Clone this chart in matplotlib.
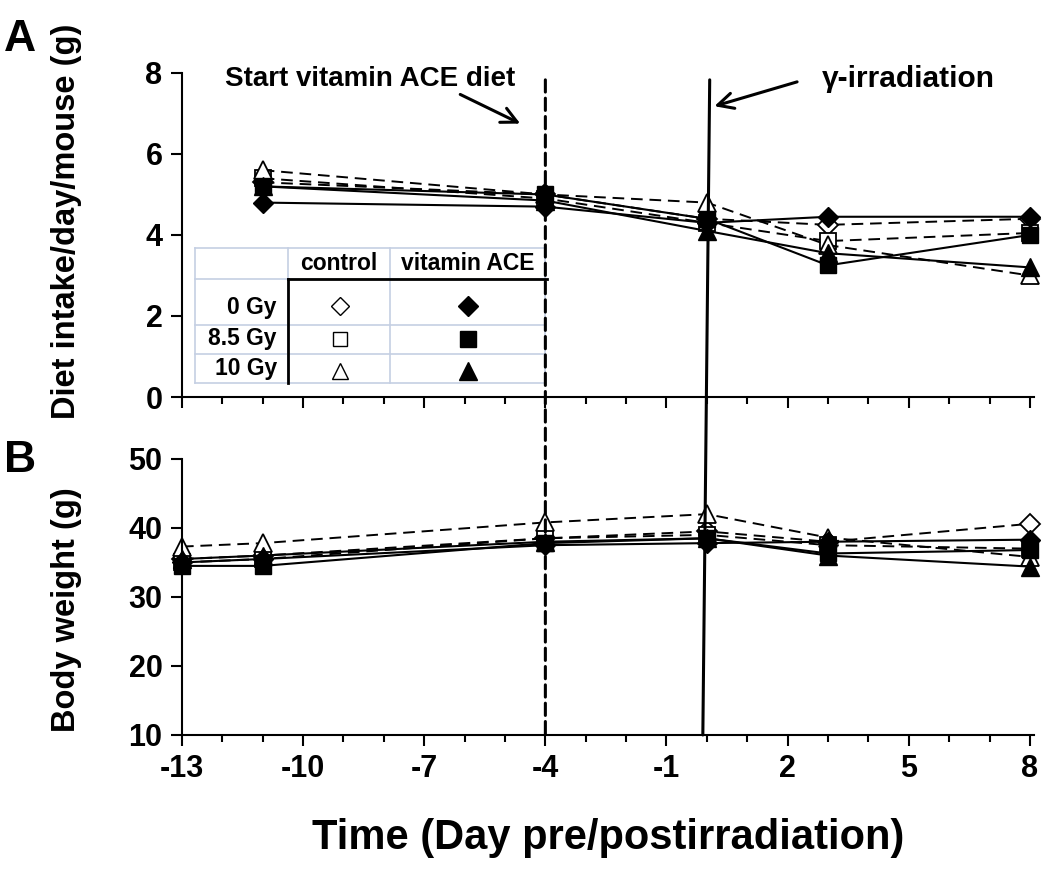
"""Diet intake and body weight of mice on a vitamin ACE diet around irradiation."""

import matplotlib
matplotlib.use("Agg")
import matplotlib.pyplot as plt
from matplotlib.patches import ConnectionPatch
from matplotlib.ticker import MultipleLocator

plt.rcParams["font.family"] = ["Liberation Sans", "DejaVu Sans"]
plt.rcParams["font.weight"] = "bold"
plt.rcParams["axes.unicode_minus"] = False

# panel A: diet intake (g/day/mouse)
days_intake = [-11, -4, 0, 3, 8]
intake_ctrl_0 = [5.3, 5.0, 4.4, 4.25, 4.4]
intake_ctrl_85 = [5.4, 4.9, 4.3, 3.85, 4.05]
intake_ctrl_10 = [5.6, 5.0, 4.8, 3.75, 3.0]
intake_vit_0 = [4.8, 4.7, 4.3, 4.45, 4.45]
intake_vit_85 = [5.2, 5.0, 4.4, 3.25, 4.0]
intake_vit_10 = [5.2, 4.85, 4.1, 3.55, 3.2]

# panel B: body weight (g)
days_weight = [-13, -11, -4, 0, 3, 8]
weight_ctrl_0 = [35.5, 36.0, 38.5, 39.5, 38.0, 40.6]
weight_ctrl_85 = [35.0, 35.5, 38.5, 39.0, 37.5, 37.0]
weight_ctrl_10 = [37.3, 37.8, 40.8, 42.0, 38.6, 35.8]
weight_vit_0 = [35.0, 35.5, 37.5, 37.8, 38.0, 38.3]
weight_vit_85 = [34.5, 34.5, 37.8, 38.5, 36.3, 36.8]
weight_vit_10 = [35.5, 36.0, 38.0, 38.5, 36.0, 34.4]

doses = ["0 Gy", "8.5 Gy", "10 Gy"]
markers = ["D", "s", "^"]
msizes = [10, 11, 13]


def style_axes(ax, ylim, ystep):
    ax.set_xlim(-13, 8.1)
    ax.set_ylim(*ylim)
    ax.yaxis.set_major_locator(MultipleLocator(ystep))
    ax.xaxis.set_minor_locator(MultipleLocator(1))
    for side in ("top", "right"):
        ax.spines[side].set_visible(False)
    for side in ("left", "bottom"):
        ax.spines[side].set_linewidth(1.5)
    ax.tick_params(axis="both", which="major", direction="out", width=1.5,
                   length=8, labelsize=22, pad=6)
    ax.tick_params(axis="x", which="minor", direction="out", width=1.5, length=5)
    ax.set_xticks(range(-13, 9, 3))


def plot_groups(ax, days, ctrl, vit):
    for vals, m, ms in zip(ctrl, markers, msizes):
        ax.plot(days, vals, linestyle=(0, (6, 3.5)), color="black", lw=1.4,
                marker=m, ms=ms, mfc="white", mec="black", mew=1.3, clip_on=False)
    for vals, m, ms in zip(vit, markers, msizes):
        ax.plot(days, vals, linestyle="-", color="black", lw=1.5,
                marker=m, ms=ms, mfc="black", mec="black", clip_on=False)


fig = plt.figure(figsize=(10.5, 8.76), dpi=100)
ax_a = fig.add_axes([0.1733, 0.5468, 0.8114, 0.3699])
ax_b = fig.add_axes([0.1733, 0.1610, 0.8114, 0.3151])

plot_groups(ax_a, days_intake,
            [intake_ctrl_0, intake_ctrl_85, intake_ctrl_10],
            [intake_vit_0, intake_vit_85, intake_vit_10])
plot_groups(ax_b, days_weight,
            [weight_ctrl_0, weight_ctrl_85, weight_ctrl_10],
            [weight_vit_0, weight_vit_85, weight_vit_10])

style_axes(ax_a, (0, 8), 2)
style_axes(ax_b, (10, 50), 10)
ax_a.set_xticklabels([])

ax_a.set_ylabel("Diet intake/day/mouse (g)", fontsize=23.5, fontweight="bold")
ax_a.yaxis.set_label_coords(-0.117, 0.543)
ax_b.set_ylabel("Body weight (g)", fontsize=23.5, fontweight="bold")
ax_b.yaxis.set_label_coords(-0.117, 0.453)
ax_b.set_xlabel("Time (Day pre/postirradiation)", fontsize=30, fontweight="bold", labelpad=24)

fig.text(0.004, 0.978, "A", fontsize=32, fontweight="bold", va="top")
fig.text(0.004, 0.498, "B", fontsize=32, fontweight="bold", va="top")

# diet start and irradiation lines running through both panels
fig.add_artist(ConnectionPatch((-4, 7.83), (-4, 10), "data", "data", axesA=ax_a, axesB=ax_b,
                               color="black", lw=2.2, linestyle=(0, (4, 2))))
fig.add_artist(ConnectionPatch((0.07, 7.83), (-0.1, 10), "data", "data", axesA=ax_a, axesB=ax_b,
                               color="black", lw=2.2))

ax_a.annotate("", xy=(-4.56, 6.72), xytext=(-6.17, 7.5),
              arrowprops=dict(arrowstyle="->", lw=2.2, color="black", mutation_scale=28))
ax_a.text(-11.93, 7.85, "Start vitamin ACE diet", fontsize=20, fontweight="bold", va="center")
ax_a.annotate("", xy=(0.12, 7.16), xytext=(2.3, 7.8),
              arrowprops=dict(arrowstyle="->", lw=2.2, color="black", mutation_scale=28))
ax_a.text(2.84, 7.85, "γ-irradiation", fontsize=21.5, fontweight="bold", va="center")

# legend table drawn inside panel A
tr = ax_a.transAxes
grid = "#c5cfe3"
xs = [0.0153, 0.1244, 0.2441, 0.4261]
ys = [0.4599, 0.3642, 0.2222, 0.1327, 0.0432]
ax_a.fill_between([xs[0], xs[-1]], ys[-1], ys[0], transform=tr, color="white", zorder=4)
for y in ys:
    ax_a.plot([xs[0], xs[-1]], [y, y], transform=tr, color=grid, lw=1.2, zorder=5)
for x in xs:
    ax_a.plot([x, x], [ys[-1], ys[0]], transform=tr, color=grid, lw=1.2, zorder=5)
ax_a.plot([xs[1], 0.428], [ys[1], ys[1]], transform=tr, color="black", lw=2, zorder=6)
ax_a.plot([xs[1], xs[1]], [ys[1], ys[-1]], transform=tr, color="black", lw=2, zorder=6)

ax_a.text(0.1843, 0.412, "control", transform=tr, fontsize=16.5, fontweight="bold",
          ha="center", va="center", zorder=7)
ax_a.text(0.335, 0.412, "vitamin ACE", transform=tr, fontsize=16.5, fontweight="bold",
          ha="center", va="center", zorder=7)
row_y = [0.2747, 0.182, 0.0895]
sym_y = [0.28, 0.179, 0.08]
for lab, yl, ys_, m, ms in zip(doses, row_y, sym_y, markers, msizes):
    ax_a.text(0.1115, yl, lab, transform=tr, fontsize=16.5, fontweight="bold",
              ha="right", va="center", zorder=7)
    ax_a.plot([0.1854], [ys_], transform=tr, marker=m, ms=ms - 1, mfc="white",
              mec="black", mew=1.0, zorder=7, clip_on=False)
    ax_a.plot([0.3357], [ys_], transform=tr, marker=m, ms=ms, mfc="black",
              mec="black", zorder=7, clip_on=False)

fig.savefig("out.png", dpi=100)
